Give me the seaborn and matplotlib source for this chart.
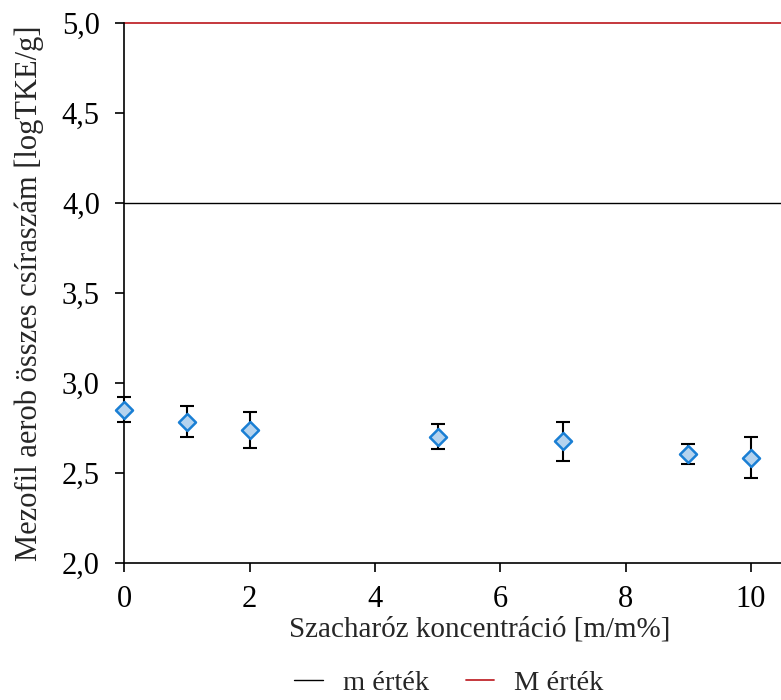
import numpy as np
import pandas as pd
import matplotlib
matplotlib.use("Agg")
import matplotlib.pyplot as plt
from matplotlib.ticker import FuncFormatter
from matplotlib.lines import Line2D
import seaborn as sns

# -- Adatok
koncentracio = [0, 1, 2, 5, 7, 9, 10]
csiraszam = [2.85, 2.785, 2.74, 2.70, 2.675, 2.605, 2.585]
szoras = [0.07, 0.085, 0.10, 0.07, 0.108, 0.055, 0.113]
m_ertek = 4.0
M_ertek = 5.0

df = pd.DataFrame({"x": koncentracio, "y": csiraszam, "err": szoras})

sns.set_theme(style="ticks")
plt.rcParams["font.family"] = ["Liberation Serif", "DejaVu Serif"]
FS = 22

fig = plt.figure(figsize=(7.81, 7.00), dpi=100)
ax = fig.add_axes([0.159, 0.196, 0.841, 0.771])

# határértékek
ax.axhline(m_ertek, color="black", lw=1.0, zorder=1)
ax.axhline(M_ertek, color="#c0272d", lw=1.3, zorder=1, clip_on=False)

# hibasávok
ax.errorbar(df["x"], df["y"], yerr=df["err"], fmt="none", ecolor="black",
            elinewidth=1.5, capsize=5, capthick=1.5, zorder=2, clip_on=False)

# pontok
sns.scatterplot(data=df, x="x", y="y", marker="D", s=75, color="#b5d3ee",
                edgecolor="#1a7fd4", linewidth=1.8, zorder=3, ax=ax, clip_on=False)

ax.set_xlim(0, 10.48)
ax.set_ylim(2.0, 5.0)
ax.set_xticks([0, 2, 4, 6, 8, 10])
ax.set_yticks(np.arange(2.0, 5.01, 0.5))
ax.yaxis.set_major_formatter(FuncFormatter(lambda v, p: f"{v:.1f}".replace(".", ",")))
ax.tick_params(axis="both", direction="out", length=6.5, width=1.2, labelsize=FS,
               colors="black")
ax.tick_params(axis="x", pad=9.5)
ax.tick_params(axis="y", pad=11)

for s in ["top", "right"]:
    ax.spines[s].set_visible(False)
for s in ["left", "bottom"]:
    ax.spines[s].set_color("black")
    ax.spines[s].set_linewidth(1.2)

ax.set_xlabel("Szacharóz koncentráció [m/m%]", fontsize=21)
ax.xaxis.set_label_coords(0.542, -0.100)
ax.set_ylabel("Mezofil aerob összes csíraszám [logTKE/g]", fontsize=FS, labelpad=13)

handles = [Line2D([0], [0], color="black", lw=1.0),
           Line2D([0], [0], color="#c0272d", lw=1.3)]
fig.legend(handles, ["m érték", "M érték"], loc="center",
           bbox_to_anchor=(0.575, 0.024), ncol=2, frameon=False, fontsize=20.5,
           handlelength=1.0, columnspacing=1.3, handletextpad=0.7,
           borderaxespad=0, borderpad=0.1)

fig.savefig("out.png", dpi=100)
